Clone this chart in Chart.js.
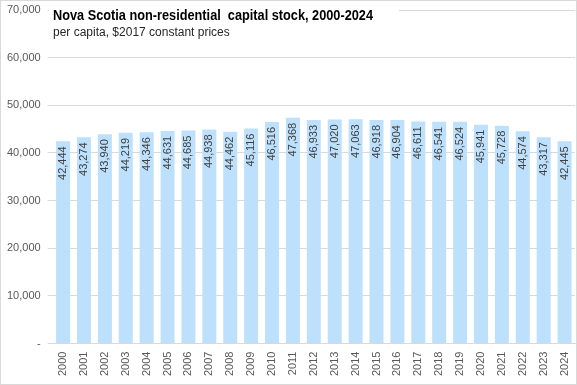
<!DOCTYPE html>
<html>
<head>
<meta charset="utf-8">
<script src="https://cdn.jsdelivr.net/npm/chart.js@4/dist/chart.umd.min.js"></script>
<style>
  html, body { margin: 0; padding: 0; background: #fff; }
  canvas { display: block; }
</style>
</head>
<body>
<canvas id="chart" width="577" height="385"></canvas>
<script>
// Data
const years = ['2000', '2001', '2002', '2003', '2004', '2005', '2006', '2007', '2008', '2009',
    '2010', '2011', '2012', '2013', '2014', '2015', '2016', '2017', '2018', '2019',
    '2020', '2021', '2022', '2023', '2024'];
const capitalStock = [42444, 43274, 43940, 44219, 44346, 44631, 44685, 44938, 44462, 45116,
    46516, 47368, 46933, 47020, 47063, 46918, 46904, 46611, 46541, 46524,
    45941, 45728, 44574, 43317, 42445];
const yTicks = [0, 10000, 20000, 30000, 40000, 50000, 60000, 70000];

const titleText = 'Nova Scotia non-residential  capital stock, 2000-2024';
const subtitleText = 'per capita, $2017 constant prices';

const FONT = "'Liberation Sans', Arial, sans-serif";
const fmt = v => v.toLocaleString('en-US');

// rotated value labels inside the top of each bar
const barLabels = {
    id: 'barLabels',
    afterDatasetsDraw(chart) {
        const ctx = chart.ctx;
        const meta = chart.getDatasetMeta(0);
        ctx.save();
        ctx.font = '11px ' + FONT;
        ctx.fillStyle = '#404040';
        ctx.textAlign = 'right';
        ctx.textBaseline = 'middle';
        meta.data.forEach((bar, i) => {
            ctx.save();
            ctx.translate(bar.x, bar.y + 5);
            ctx.rotate(-Math.PI / 2);
            ctx.fillText(fmt(capitalStock[i]), 0, 0);
            ctx.restore();
        });
        ctx.restore();
    }
};

// draw text squeezed to a given width (the original uses a narrower font)
function fitText(ctx, text, x, y, width) {
    const w = ctx.measureText(text).width;
    ctx.save();
    ctx.translate(x, y);
    ctx.scale(Math.min(1, width / w), 1);
    ctx.fillText(text, 0, 0);
    ctx.restore();
}

// title box sits over the plot, like the Excel chart title
const titleBox = {
    id: 'titleBox',
    afterDraw(chart) {
        const ctx = chart.ctx;
        ctx.save();
        ctx.fillStyle = '#fff';
        ctx.fillRect(49, 2, 350, 40);
        ctx.fillStyle = '#000';
        ctx.textBaseline = 'middle';
        ctx.textAlign = 'left';
        ctx.font = 'bold 15px ' + FONT;
        fitText(ctx, titleText, 53, 16, 320);
        ctx.fillStyle = '#262626';
        ctx.font = '12px ' + FONT;
        fitText(ctx, subtitleText, 53, 33, 178);
        // outer chart border
        ctx.strokeStyle = '#d9d9d9';
        ctx.lineWidth = 1;
        ctx.strokeRect(0.5, 0.5, chart.width - 1, chart.height - 1);
        ctx.restore();
    }
};

new Chart(document.getElementById('chart'), {
    type: 'bar',
    data: {
        labels: years,
        datasets: [{
            data: capitalStock,
            backgroundColor: '#bde1fc',
            borderWidth: 0,
            categoryPercentage: 1.0,
            barPercentage: 0.67
        }]
    },
    options: {
        responsive: false,
        animation: false,
        devicePixelRatio: 1,
        layout: {
            autoPadding: false,
            padding: { top: 10, right: 2, left: 0, bottom: 1 }
        },
        plugins: {
            legend: { display: false },
            tooltip: { enabled: false }
        },
        scales: {
            x: {
                grid: { display: false, drawTicks: false },
                border: { display: true, color: '#d9d9d9' },
                ticks: {
                    color: '#595959',
                    font: { family: FONT, size: 11 },
                    minRotation: 90,
                    maxRotation: 90,
                    autoSkip: false,
                    padding: 8
                },
                afterFit(scale) {
                    scale.paddingLeft = 0;
                    scale.paddingRight = 0;
                }
            },
            y: {
                min: 0,
                max: 70000,
                afterBuildTicks(scale) {
                    scale.ticks = yTicks.map(v => ({ value: v }));
                },
                afterFit(scale) {
                    scale.paddingTop = 0;
                    scale.paddingBottom = 0;
                },
                grid: { color: '#d9d9d9', drawTicks: true, tickLength: 5 },
                border: { display: false },
                ticks: {
                    color: '#595959',
                    font: { family: FONT, size: 11 },
                    padding: 7,
                    callback: v => v === 0 ? '-' : fmt(v)
                }
            }
        }
    },
    plugins: [barLabels, titleBox]
});
</script>
</body>
</html>
